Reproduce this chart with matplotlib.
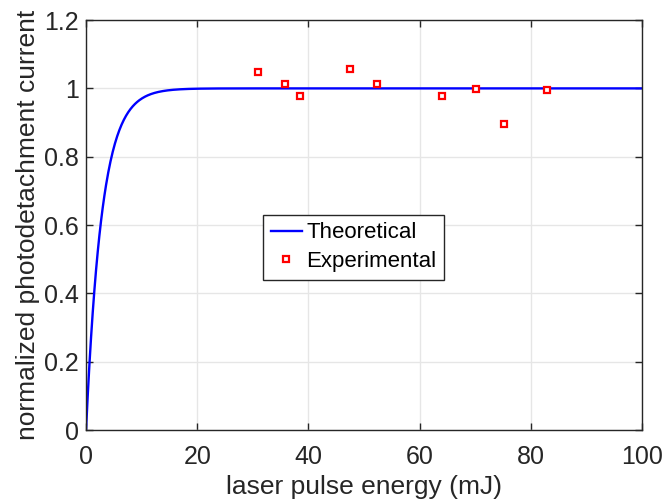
import numpy as np
import matplotlib.pyplot as plt

plt.rcParams['font.family'] = ['Liberation Sans', 'DejaVu Sans']

# Measured photodetachment current (normalized) vs laser pulse energy
exp_energy = [30.9, 35.7, 38.5, 47.4, 52.4, 64.1, 70.1, 75.1, 82.9]
exp_current = [1.048, 1.013, 0.977, 1.056, 1.013, 0.979, 0.997, 0.895, 0.994]

# Saturation model: I/I_sat = 1 - exp(-E / E_sat)
e_sat = 2.85  # mJ
theory_energy = np.linspace(0, 100, 1001)
theory_current = 1 - np.exp(-theory_energy / e_sat)

x_ticks = [0, 20, 40, 60, 80, 100]
y_ticks = [0, 0.2, 0.4, 0.6, 0.8, 1.0, 1.2]
y_tick_labels = ['0', '0.2', '0.4', '0.6', '0.8', '1', '1.2']

dark = '#262626'

fig = plt.figure(figsize=(6.67, 5.03), dpi=100)
ax = fig.add_axes([0.129, 0.1451, 0.8335, 0.815])

ax.plot(theory_energy, theory_current, color='#0000ff', lw=1.7, label='Theoretical')
ax.plot(exp_energy, exp_current, ls='none', marker='s', ms=4, mfc='white',
        mec='#ff0000', mew=1.6, label='Experimental')

ax.set_xlim(0, 100)
ax.set_ylim(0, 1.2)
ax.set_xticks(x_ticks)
ax.set_yticks(y_ticks)
ax.set_yticklabels(y_tick_labels)
ax.grid(True, color='#e6e6e6', lw=1)
ax.set_axisbelow(True)
ax.tick_params(direction='in', length=5, width=1, colors=dark,
               labelsize=18, top=True, right=True, labeltop=False, labelright=False,
               pad=5)
ax.tick_params(axis='x', pad=11)
for s in ax.spines.values():
    s.set_color(dark)
    s.set_linewidth(1)

ax.set_xlabel('laser pulse energy (mJ)', fontsize=19, color=dark)
ax.set_ylabel('normalized photodetachment current', fontsize=19, color=dark, labelpad=3)
ax.xaxis.set_label_coords(0.5, -0.11)

leg = ax.legend(loc='lower left', bbox_to_anchor=(0.318, 0.366, 0.325, 0.156),
                mode='expand', fontsize=16, frameon=True, fancybox=False,
                handlelength=1.4, handletextpad=0.2, borderpad=0.35, labelspacing=0.35,
                borderaxespad=0)
leg.get_frame().set_edgecolor(dark)
leg.get_frame().set_linewidth(1)
leg.get_frame().set_alpha(1)
for t in leg.get_texts():
    t.set_color('black')

fig.savefig('out.png', dpi=100)
